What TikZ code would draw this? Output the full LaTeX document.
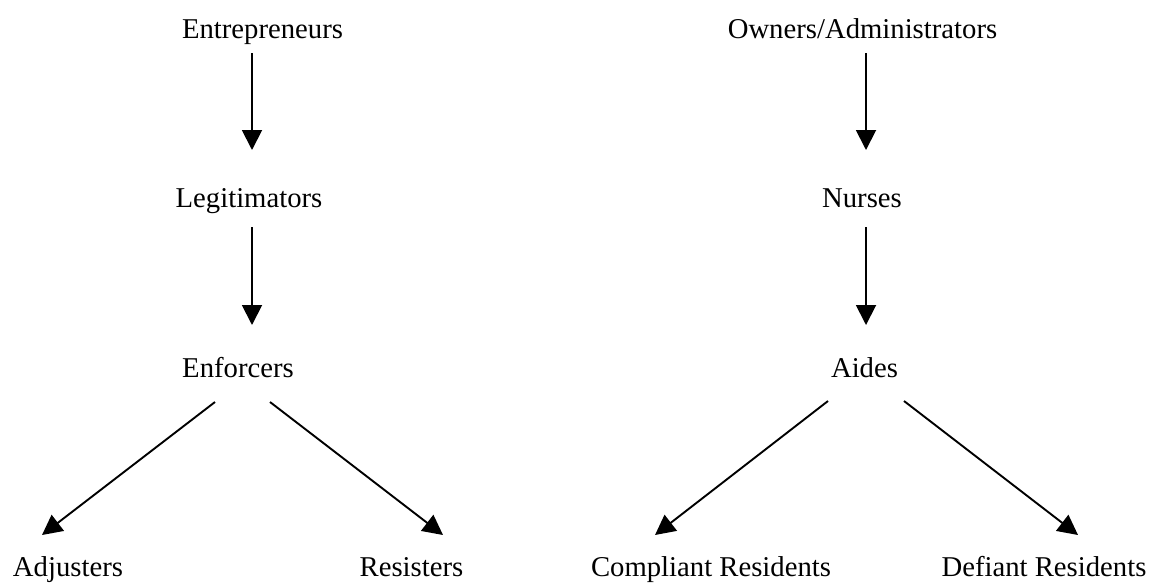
\documentclass[tikz,border=0pt]{standalone}
\usepackage{fontspec}
\setmainfont{Liberation Serif}
\usetikzlibrary{arrows.meta,calc}
\begin{document}
\begin{tikzpicture}[x=1pt,y=-1pt,
  lbl/.style={anchor=base,inner sep=0pt,font=\fontsize{28.7}{34}\selectfont},
  arr/.style={line width=1.9pt,-{Triangle[length=20pt,width=20pt]}}]
\useasboundingbox[fill=white] (0,0) rectangle (1153,584);
\node[lbl] (ent) at (262.5,38) {Entrepreneurs};
\node[lbl] (leg) at (249,207) {Legitimators};
\node[lbl] (enf) at (238,377) {Enforcers};
\node[lbl] (adj) at (68,576) {Adjusters};
\node[lbl] (res) at (411.5,576) {Resisters};
\node[lbl] (own) at (862.5,38) {Owners/Administrators};
\node[lbl] (nur) at (862,207) {Nurses};
\node[lbl] (aid) at (864.5,377) {Aides};
\node[lbl] (com) at (711,576) {Compliant Residents};
\node[lbl] (def) at (1044,576) {Defiant Residents};
\draw[arr] ($(ent.base)+(-10.5,15)$) -- ($(leg.base)+(3,-57)$);
\draw[arr] ($(leg.base)+(3,20)$) -- ($(enf.base)+(14,-52)$);
\draw[arr] ($(enf.base)+(-23,25)$) -- ($(adj.base)+(-26,-41)$);
\draw[arr] ($(enf.base)+(32,25)$) -- ($(res.base)+(31.5,-41)$);
\draw[arr] ($(own.base)+(3.5,15)$) -- ($(nur.base)+(4,-57)$);
\draw[arr] ($(nur.base)+(4,20)$) -- ($(aid.base)+(1.5,-52)$);
\draw[arr] ($(aid.base)+(-36.5,24)$) -- ($(com.base)+(-56,-41)$);
\draw[arr] ($(aid.base)+(39.5,24)$) -- ($(def.base)+(34,-41)$);
\end{tikzpicture}
\end{document}
